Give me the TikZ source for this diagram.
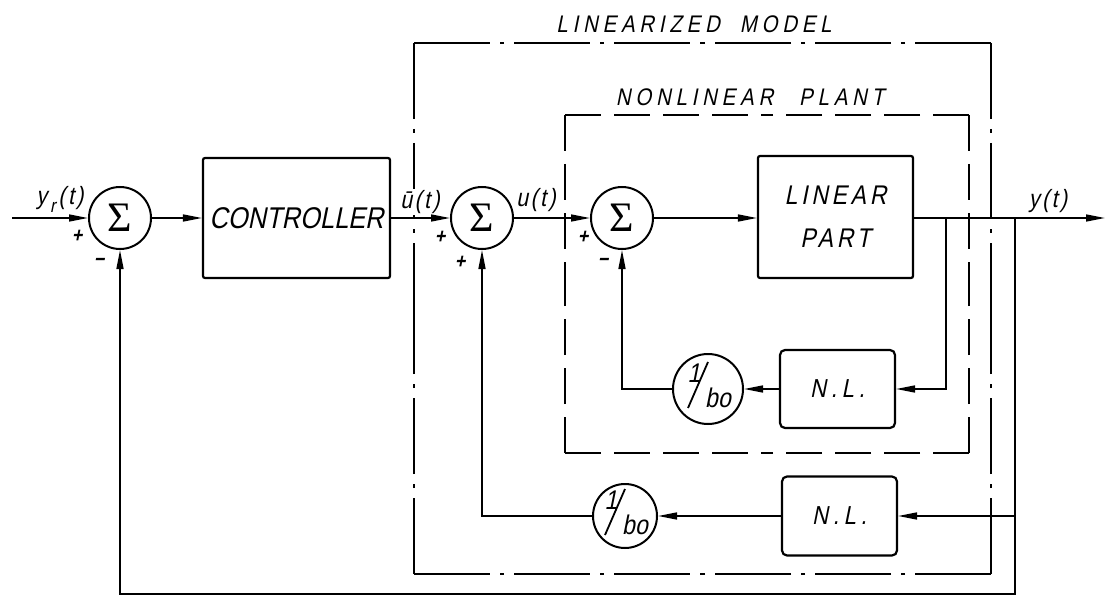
\documentclass[tikz,border=0pt]{standalone}
\usepackage{fontspec}
\usetikzlibrary{arrows.meta,calc}
\newfontfamily\lett[FakeSlant=0.2,FakeStretch=0.85]{Liberation Sans}
\newfontfamily\sigfont{Liberation Serif}
\newcommand\fsz[1]{\fontsize{#1}{#1}\selectfont}
\begin{document}
\begin{tikzpicture}[x=1pt,y=-1pt,line width=1.6pt,
  arr/.style={-{Triangle[length=19pt,width=7pt]}},
  sumnode/.style={circle,draw,line width=2pt,minimum size=62pt,inner sep=0pt,font=\sigfont\fsz{42}},
  gainnode/.style={circle,draw,line width=2pt,inner sep=0pt},
  blk/.style={draw,line width=2.2pt,rounded corners=2pt,inner sep=0pt},
  nlblk/.style={blk,rounded corners=5pt,font=\lett\addfontfeature{LetterSpace=18}\fsz{26}},
  lbl/.style={inner sep=1pt,font=\lett\addfontfeature{LetterSpace=10}\fsz{25}},
  sgn/.style={inner sep=0pt,font=\lett\bfseries\fsz{21}},
  gtxt/.style={inner sep=0pt,font=\lett\fsz{27}},
  lmline/.style={line width=2pt,dash pattern=on 76pt off 10pt on 4pt off 10pt},
  npline/.style={line width=2pt,dash pattern=on 36pt off 13pt},
  ttl/.style={inner sep=0pt,font=\lett\addfontfeature{LetterSpace=20}\fsz{24}}
]
\useasboundingbox (0,0) rectangle (1105,596);

% enclosing borders
\coordinate (lmA) at (414,43);  \coordinate (lmB) at (991,43);
\coordinate (lmC) at (991,574); \coordinate (lmD) at (414,574);
\coordinate (npA) at (565,115); \coordinate (npB) at (969,115);
\coordinate (npC) at (969,453); \coordinate (npD) at (565,453);
\foreach \a/\b in {lmA/lmB,lmB/lmC,lmC/lmD,lmD/lmA}{
  \draw[lmline] (\a) -- ($(\a)!0.5!(\b)$);
  \draw[lmline] (\b) -- ($(\b)!0.5!(\a)$);
}
\foreach \a/\b in {npA/npB,npB/npC,npC/npD,npD/npA}{
  \draw[npline] (\a) -- ($(\a)!0.5!(\b)$);
  \draw[npline] (\b) -- ($(\b)!0.5!(\a)$);
}
\node[ttl] (tlm) at (694,24) {LINEARIZED\hspace{20pt}MODEL};
\node[ttl] (tnp) at (750,97) {NONLINEAR\hspace{26pt}PLANT};

% summing junctions
\node[sumnode] (s1) at (120,218) {Σ};
\node[sumnode] (s2) at (482,218) {Σ};
\node[sumnode] (s3) at (622,218) {Σ};

% blocks
\node[blk,minimum width=187pt,minimum height=120pt,font=\lett\fsz{30}] (ctrl) at (296.5,218) {CONTROLLER};
\node[blk,minimum width=155pt,minimum height=122pt,align=center,
      font=\lett\addfontfeature{LetterSpace=14}\fsz{27}] (lin) at (835.5,217) {LINEAR\\[16pt]PART};
\node[nlblk,minimum width=115pt,minimum height=78pt] (nl1) at (837.5,389) {N.L.};
\node[nlblk,minimum width=115pt,minimum height=79pt] (nl2) at (839.5,516) {N.L.};

% gains 1/bo
\node[gainnode,minimum size=70pt] (g1) at (708,389) {};
\node[gainnode,minimum size=64pt] (g2) at (625,516) {};
\foreach \g in {g1,g2}{
  \node[gtxt] (\g one) at ($(\g)+(-14,-16)$) {1};
  \node[gtxt] (\g bo) at ($(\g)+(10,9)$) {bo};
  \draw[line width=1.8pt] ($(\g)+(-20,19)$) -- ($(\g)+(0,-27)$);
}

% signal labels
\node[lbl] (lyr) at (60,199) {y\hspace{3pt}\raisebox{-8pt}{\fsz{19}r}\hspace{3pt}(t)};
\node[lbl,fill=white] (lub) at (420,202) {ū(t)};
\node[lbl] (lu) at (536,200) {u(t)};
\node[lbl] (ly) at (1048,201) {y(t)};

% signs
\node[sgn] (p1) at (77,236) {+};
\node[sgn] (m1) at (99,262) {−};
\node[sgn] (p2a) at (440,237) {+};
\node[sgn] (p2b) at (460,262) {+};
\node[sgn] (p3) at (583,237) {+};
\node[sgn] (m3) at (603,262) {−};

% connectors
\coordinate (in) at (12,218);
\coordinate (out) at (1105,218);
\coordinate (b1) at (946,218);
\coordinate (b1d) at (946,389);
\coordinate (b2) at (1015,218);
\coordinate (b2m) at (1015,516);
\coordinate (b2d) at (1015,594);

\draw[arr] (in) -- (s1);
\draw[arr] (s1) -- (ctrl);
\draw[arr] (ctrl) -- (s2);
\draw[arr] (s2) -- (s3);
\draw[arr] (s3.east) -- (s3.east -| lin.west);
\draw[arr] (lin.east |- s3) -- (out);
\draw[arr] (b1) -- (b1d) -- (nl1.east);
\draw[arr] (nl1) -- (g1);
\draw[arr] (g1.west) -| (s3.south);
\draw[arr] (b2) -- (b2d) -| (s1.south);
\draw[arr] (b2m) -- (nl2.east);
\draw[arr] (nl2) -- (g2);
\draw[arr] (g2.west) -| (s2.south);
\end{tikzpicture}
\end{document}
